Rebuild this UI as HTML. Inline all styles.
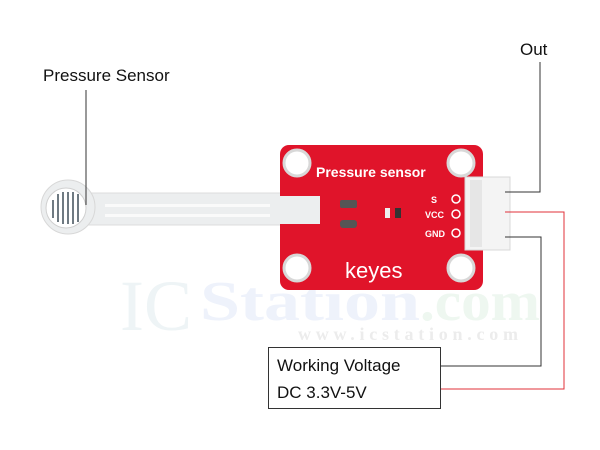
<!DOCTYPE html>
<html><head><style>
body{margin:0;width:600px;height:450px;background:#fff;overflow:hidden;position:relative;font-family:"Liberation Sans",sans-serif}
</style></head><body>
<svg width="600" height="450" style="position:absolute;left:0;top:0">
<!-- watermark -->
<text x="120" y="330" font-family="Liberation Serif" font-size="72" fill="#eef4f6">IC</text>
<text x="200" y="320" font-family="Liberation Serif" font-size="56" font-weight="bold" fill="#eef2fb" textLength="220" lengthAdjust="spacingAndGlyphs">Station</text>
<text x="420" y="320" font-family="Liberation Serif" font-size="56" font-weight="bold" fill="#eef7f0" textLength="120" lengthAdjust="spacingAndGlyphs">.com</text>
<text x="298" y="340" font-family="Liberation Serif" font-size="18" font-weight="bold" fill="#ececec" textLength="220">www.icstation.com</text>
<!-- sensor -->
<rect x="85" y="193" width="205" height="32" fill="#eceeef" stroke="#dcdcdc"/>
<circle cx="68" cy="207" r="27" fill="#eceeef" stroke="#d8d8d8"/>
<circle cx="66" cy="208" r="20" fill="#fff" stroke="#d0d0d0"/>
<g stroke="#6f7a82" stroke-width="2" fill="none">
<path d="M53 200v18M58 194v28M63 192v32M68 192v32M73 192v32M78 194v28"/>
</g>
<rect x="105" y="204" width="180" height="3" fill="#fafafa"/>
<rect x="105" y="214" width="180" height="3" fill="#fafafa"/>
<!-- board -->
<rect x="280" y="145" width="203" height="145" rx="9" fill="#e0142a"/>
<rect x="270" y="196" width="50" height="28" fill="#eceeef"/>
<g fill="#fff" stroke="#d8d8d8" stroke-width="3">
<circle cx="297" cy="163" r="13"/><circle cx="461" cy="163" r="13"/>
<circle cx="297" cy="268" r="13"/><circle cx="461" cy="268" r="13"/>
</g>
<g fill="#fff"><circle cx="297" cy="163" r="7"/><circle cx="461" cy="163" r="7"/><circle cx="297" cy="268" r="7"/><circle cx="461" cy="268" r="7"/></g>
<rect x="340" y="200" width="17" height="8" rx="2" fill="#555"/>
<rect x="340" y="220" width="17" height="8" rx="3" fill="#555"/>
<rect x="385" y="208" width="5" height="10" fill="#eee"/>
<rect x="395" y="208" width="6" height="10" fill="#333"/>
<text x="316" y="177" font-size="14" font-weight="bold" fill="#fff">Pressure sensor</text>
<text x="345" y="278" font-size="22" fill="#fff">keyes</text>
<text x="431" y="203" font-size="9" font-weight="bold" fill="#fff">S</text>
<text x="425" y="218" font-size="9" font-weight="bold" fill="#fff">VCC</text>
<text x="425" y="237" font-size="9" font-weight="bold" fill="#fff">GND</text>
<g fill="none" stroke="#fff" stroke-width="1.5"><circle cx="456" cy="199" r="4"/><circle cx="456" cy="214" r="4"/><circle cx="456" cy="233" r="4"/></g>
<!-- connector -->
<rect x="465" y="177" width="45" height="73" fill="#f4f4f4" stroke="#d8d8d8"/>
<rect x="470" y="180" width="12" height="67" fill="#e6e6e6"/>
<!-- lines -->
<g fill="none" stroke-width="1">
<path d="M86 90V205" stroke="#333"/>
<path d="M505 192H540V62" stroke="#333"/>
<path d="M505 237H541V366H440" stroke="#333"/>
<path d="M505 212H564V389H440" stroke="#e0303a"/>
</g>
<rect x="268.5" y="347.5" width="172" height="61" fill="#fff" stroke="#333"/>
</svg>
<div style="position:absolute;left:43px;top:66px;font-size:17px;color:#111">Pressure Sensor</div>
<div style="position:absolute;left:520px;top:40px;font-size:17px;color:#111">Out</div>
<div style="position:absolute;left:277px;top:352px;font-size:17px;line-height:27px;color:#111">Working Voltage<br>DC 3.3V-5V</div>
</body></html>
